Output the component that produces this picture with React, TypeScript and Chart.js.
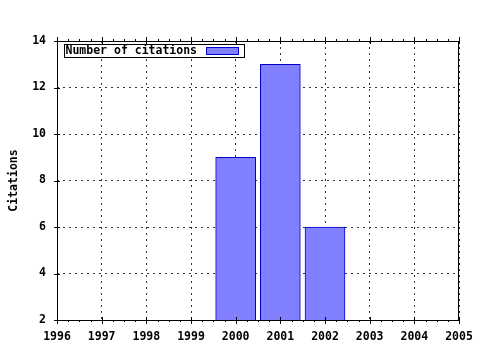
import React, { useEffect, useRef } from "react";
import { Chart, registerables } from "chart.js";

Chart.register(...registerables);

const years = [2000, 2001, 2002];
const citations = [9, 13, 6];
const seriesLabel = "Number of citations";
const yTitle = "Citations";
const xMin = 1996;
const xMax = 2005;
const yMin = 2;
const yMax = 14;
const yStep = 2;

const FONT = "'DejaVu Sans Mono', monospace";
const FONT_SIZE = 11.5;
const BAR_FILL = "#8080ff";
const BAR_EDGE = "#0000cc";

const framePlugin = {
  id: "frameAndLegend",
  afterDraw(chart: any) {
    const ctx = chart.ctx;
    const { left, right, top, bottom } = chart.chartArea;
    const xs = chart.scales.x;
    const ys = chart.scales.y;
    ctx.save();
    ctx.strokeStyle = "#000";
    ctx.lineWidth = 1;
    ctx.setLineDash([]);
    // frame
    ctx.strokeRect(Math.round(left) + 0.5, Math.round(top) + 0.5, Math.round(right - left) - 1, Math.round(bottom - top));
    ctx.beginPath();
    // y major ticks
    ys.ticks.forEach((t: any) => {
      const y = Math.round(ys.getPixelForValue(t.value)) + 0.5;
      ctx.moveTo(left - 3, y);
      ctx.lineTo(left + 3, y);
    });
    // x major and minor ticks top/bottom
    for (let v = xMin; v <= xMax; v++) {
      const x = Math.round(xs.getPixelForValue(v)) + 0.5;
      ctx.moveTo(x, bottom - 3);
      ctx.lineTo(x, bottom + 4);
      ctx.moveTo(x, top + 3);
      ctx.lineTo(x, top - 4);
      if (v < xMax) {
        for (let k = 1; k < 4; k++) {
          const mx = Math.round(xs.getPixelForValue(v + k / 4)) + 0.5;
          ctx.moveTo(mx, bottom);
          ctx.lineTo(mx, bottom + 2);
          ctx.moveTo(mx, top);
          ctx.lineTo(mx, top - 2);
        }
      }
    }
    ctx.stroke();

    // legend
    const label = chart.data.datasets[0].label;
    ctx.font = `bold ${FONT_SIZE}px ${FONT}`;
    const tw = ctx.measureText(label).width;
    const bx = Math.round(left) + 7.5;
    const by = Math.round(top) + 3.5;
    const swX = Math.round(bx + 2 + tw + 8) + 0.5;
    const bw = swX + 32 + 6 - bx;
    const bh = 13;
    ctx.fillStyle = "#fff";
    ctx.fillRect(bx, by, bw, bh);
    ctx.strokeRect(bx, by, bw, bh);
    ctx.fillStyle = "#000";
    ctx.textBaseline = "middle";
    ctx.textAlign = "left";
    ctx.fillText(label, bx + 1, by + bh / 2 + 0.5);
    ctx.fillStyle = BAR_FILL;
    ctx.fillRect(swX, by + 3, 32, 7);
    ctx.strokeStyle = BAR_EDGE;
    ctx.strokeRect(swX, by + 3, 32, 7);
    ctx.restore();
  },
};

export default function App() {
  const ref = useRef<HTMLCanvasElement>(null);
  useEffect(() => {
    document.body.style.margin = "0";
    const chart = new Chart(ref.current!, {
      type: "bar",
      data: {
        datasets: [
          {
            label: seriesLabel,
            data: years.map((y, i) => ({ x: y, y: citations[i] })),
            backgroundColor: BAR_FILL,
            borderColor: BAR_EDGE,
            borderWidth: 1,
            borderSkipped: "start",
            barThickness: 40,
          } as any,
        ],
      },
      options: {
        animation: false,
        responsive: false,
        maintainAspectRatio: false,
        layout: { padding: { top: 41, right: 21, left: 0, bottom: 0 } },
        plugins: { legend: { display: false }, tooltip: { enabled: false } },
        scales: {
          x: {
            type: "linear",
            min: xMin,
            max: xMax,
            offset: false,
            afterFit: (s: any) => {
              s.height = 30;
              s.paddingLeft = 0;
              s.paddingRight = 0;
            },
            ticks: {
              stepSize: 1,
              autoSkip: false,
              maxRotation: 0,
              padding: 10,
              color: "#000",
              font: { family: FONT, size: FONT_SIZE, weight: "bold" },
              callback: (v: any) => String(v),
            },
            grid: {
              offset: false,
              drawTicks: false,
              color: "#333",
              lineWidth: 1,
            },
            border: { display: false, dash: [2, 4] },
          } as any,
          y: {
            min: yMin,
            max: yMax,
            afterFit: (s: any) => {
              s.width = 57;
              s.paddingTop = 0;
              s.paddingBottom = 0;
            },
            ticks: {
              stepSize: yStep,
              padding: 11,
              color: "#000",
              font: { family: FONT, size: FONT_SIZE, weight: "bold" },
            },
            grid: {
              drawTicks: false,
              color: "#333",
              lineWidth: 1,
            },
            border: { display: false, dash: [2, 4] },
            title: {
              display: true,
              text: yTitle,
              color: "#000",
              padding: { top: 7, bottom: 0 },
              font: { family: FONT, size: FONT_SIZE, weight: "bold" },
            },
          } as any,
        },
      },
      plugins: [framePlugin],
    });
    return () => chart.destroy();
  }, []);
  return <canvas ref={ref} width={480} height={350} style={{ display: "block" }} />;
}
